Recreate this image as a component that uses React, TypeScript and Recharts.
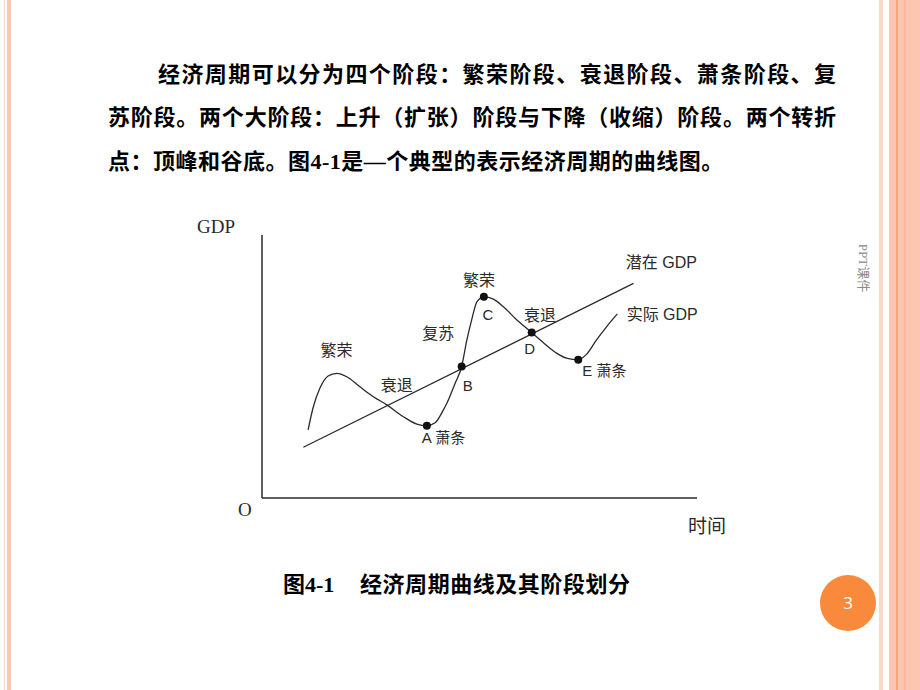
import { ComposedChart, Line, XAxis, YAxis, ReferenceDot } from "recharts";

const ACTUAL_TIME = [10.6, 11.8, 13.3, 15.2, 17.2, 19.5, 22.5, 25.6, 28.7, 32.5, 35.6, 37.9, 39.8, 41.7, 42.5, 44.4, 45.9, 47.1, 48.2, 49.4, 51.0, 53.2, 55.5, 58.6, 62.0, 64.7, 67.8, 70.0, 72.7, 74.6, 76.9, 79.2, 81.7];
const ACTUAL_GDP = [25.9, 34.7, 41.7, 46.4, 47.4, 46.1, 42.3, 38.5, 35.4, 30.9, 28.1, 27.5, 28.6, 33.5, 36.0, 43.6, 50.0, 60.1, 67.7, 74.6, 76.5, 75.6, 72.7, 67.7, 62.9, 59.0, 55.0, 53.2, 52.6, 54.6, 60.1, 65.1, 70.0];

// potential GDP trend
const POTENTIAL_TIME = [9.5, 85.4];
const POTENTIAL_GDP = [19.3, 81.6];

// turning points
const POINT_NAMES = ["A 萧条", "B", "C", "D", "E 萧条"];
const POINT_TIME = [37.9, 45.9, 51.0, 62.0, 72.7];
const POINT_GDP = [27.5, 50.0, 76.5, 62.9, 52.6];

// phase annotations
const PHASE_NAMES = ["繁荣", "衰退", "复苏", "繁荣", "衰退", "潜在 GDP", "实际 GDP"];
const PHASE_TIME = [17.1, 31.0, 40.5, 49.9, 63.9, 91.8, 92.0];
const PHASE_GDP = [56.5, 43.3, 63.1, 83.3, 70.0, 89.7, 69.6];

const actualData = ACTUAL_TIME.map((t, i) => ({ t, gdp: ACTUAL_GDP[i] }));
const potentialData = POTENTIAL_TIME.map((t, i) => ({ t, gdp: POTENTIAL_GDP[i] }));

// label offsets (px) from each turning point
const POINT_OFFSETS = [
    { dx: -5, dy: 12, anchor: "start" },
    { dx: 6, dy: 19, anchor: "middle" },
    { dx: 4, dy: 18, anchor: "middle" },
    { dx: -2, dy: 16, anchor: "middle" },
    { dx: 4, dy: 11, anchor: "start" },
];

const INK = "#2a2a2a";
const CJK = "'Noto Sans CJK SC', 'Liberation Sans', sans-serif";
const LATIN_CJK = "'Liberation Sans', 'Noto Sans CJK SC', sans-serif";
const SERIF_CJK = "'Liberation Serif', 'Noto Sans CJK SC', serif";

function CycleChart() {
    return (
        <ComposedChart width={560} height={350} margin={{ top: 35, right: 53, bottom: 51, left: 71 }}>
            <XAxis
                type="number"
                dataKey="t"
                domain={[0, 100]}
                allowDataOverflow
                tick={false}
                tickLine={false}
                height={1}
                axisLine={{ stroke: INK, strokeWidth: 1.5 }}
            />
            <YAxis
                type="number"
                domain={[0, 100]}
                allowDataOverflow
                tick={false}
                tickLine={false}
                width={1}
                axisLine={{ stroke: INK, strokeWidth: 1.5 }}
            />
            <Line
                data={potentialData}
                dataKey="gdp"
                type="linear"
                dot={false}
                stroke={INK}
                strokeWidth={1.3}
                isAnimationActive={false}
            />
            <Line
                data={actualData}
                dataKey="gdp"
                type="monotone"
                dot={false}
                stroke={INK}
                strokeWidth={1.3}
                isAnimationActive={false}
            />
            {POINT_TIME.map((t, i) => (
                <ReferenceDot key={`pt-${i}`} x={t} y={POINT_GDP[i]} r={4} fill="#111" stroke="none" />
            ))}
            {POINT_TIME.map((t, i) => (
                <ReferenceDot
                    key={`pl-${i}`}
                    x={t}
                    y={POINT_GDP[i]}
                    r={0}
                    ifOverflow="visible"
                    shape={(p: any) => (
                        <text
                            x={p.cx + POINT_OFFSETS[i].dx}
                            y={p.cy + POINT_OFFSETS[i].dy}
                            textAnchor={POINT_OFFSETS[i].anchor}
                            dominantBaseline="central"
                            fontSize={15}
                            fontFamily={LATIN_CJK}
                            fill={INK}
                        >
                            {POINT_NAMES[i]}
                        </text>
                    )}
                />
            ))}
            {PHASE_TIME.map((t, i) => (
                <ReferenceDot
                    key={`ph-${i}`}
                    x={t}
                    y={PHASE_GDP[i]}
                    r={0}
                    ifOverflow="visible"
                    shape={(p: any) => (
                        <text
                            x={p.cx}
                            y={p.cy}
                            textAnchor="middle"
                            dominantBaseline="central"
                            fontSize={16}
                            fontFamily={i > 4 ? LATIN_CJK : CJK}
                            fill={INK}
                        >
                            {PHASE_NAMES[i]}
                        </text>
                    )}
                />
            ))}
        </ComposedChart>
    );
}

const bodyLine = {
    position: "absolute" as const,
    fontSize: 22,
    lineHeight: "30px",
    fontWeight: 700,
    fontFamily: SERIF_CJK,
    color: "#000",
    whiteSpace: "nowrap" as const,
};

export default function App() {
    return (
        <div style={{ position: "fixed", left: 0, top: 0, width: 920, height: 690, background: "#fff", overflow: "hidden" }}>
            {/* slide border stripes */}
            <div style={{ position: "absolute", left: 4, top: 0, width: 1, height: 690, background: "#fbd6c8" }} />
            <div style={{ position: "absolute", left: 7, top: 0, width: 4, height: 690, background: "#fcc6b1" }} />
            <div style={{ position: "absolute", left: 879, top: 0, width: 4, height: 690, background: "#fcd8ca" }} />
            <div style={{ position: "absolute", left: 889, top: 0, width: 31, height: 690, background: "#fdc6b1" }} />
            <div style={{ position: "absolute", left: 896, top: 0, width: 2, height: 690, background: "#f9a57c" }} />
            <div style={{ position: "absolute", left: 904, top: 0, width: 2, height: 690, background: "#fbb89e" }} />

            {/* body text */}
            <div style={{ ...bodyLine, left: 158, top: 60, width: 678, textAlign: "justify", textAlignLast: "justify" }}>
                经济周期可以分为四个阶段：繁荣阶段、衰退阶段、萧条阶段、复
            </div>
            <div style={{ ...bodyLine, left: 108, top: 103, width: 728, textAlign: "justify", textAlignLast: "justify" }}>
                苏阶段。两个大阶段：上升（扩张）阶段与下降（收缩）阶段。两个转折
            </div>
            <div style={{ ...bodyLine, left: 108, top: 147, letterSpacing: 0.5 }}>
                点：顶峰和谷底。图4-1是—个典型的表示经济周期的曲线图。
            </div>

            {/* chart */}
            <div style={{ position: "absolute", left: 190, top: 200 }}>
                <CycleChart />
            </div>
            <div style={{ position: "absolute", left: 197, top: 215, fontSize: 19, lineHeight: "24px", fontFamily: "'Liberation Serif', serif", color: INK }}>
                GDP
            </div>
            <div style={{ position: "absolute", left: 238, top: 498, fontSize: 19, lineHeight: "24px", fontFamily: "'Liberation Serif', serif", color: INK }}>
                O
            </div>
            <div style={{ position: "absolute", left: 688, top: 513, fontSize: 19, lineHeight: "24px", fontFamily: CJK, color: INK }}>
                时间
            </div>

            {/* caption */}
            <div style={{ ...bodyLine, left: 283, top: 570 }}>图4-1</div>
            <div style={{ ...bodyLine, left: 360, top: 570, width: 270, textAlign: "justify", textAlignLast: "justify" }}>
                经济周期曲线及其阶段划分
            </div>

            {/* side note */}
            <div
                style={{
                    position: "absolute",
                    left: 833,
                    top: 259,
                    width: 60,
                    textAlign: "center",
                    fontSize: 13,
                    lineHeight: "18px",
                    fontFamily: SERIF_CJK,
                    color: "#8a8a8a",
                    transform: "rotate(90deg)",
                    whiteSpace: "nowrap",
                }}
            >
                PPT课件
            </div>

            {/* page number */}
            <div
                style={{
                    position: "absolute",
                    left: 820,
                    top: 575,
                    width: 56,
                    height: 56,
                    borderRadius: "50%",
                    background: "#f98a3c",
                    color: "#fff",
                    fontSize: 17,
                    lineHeight: "56px",
                    textAlign: "center",
                    fontFamily: "'Open Sans', sans-serif",
                }}
            >
                3
            </div>
        </div>
    );
}
